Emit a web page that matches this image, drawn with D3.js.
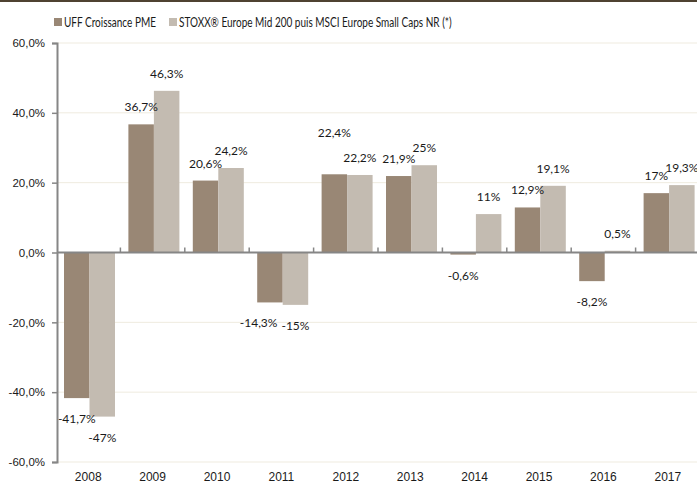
<!DOCTYPE html>
<html>
<head>
<meta charset="utf-8">
<script src="https://cdn.jsdelivr.net/npm/d3@7"></script>
<style>
  body { margin: 0; background: #fff; }
  svg { display: block; font-family: "Lato", sans-serif; }
</style>
</head>
<body>
<div id="chart"></div>
<script>
// Performances annuelles
const years = ['2008', '2009', '2010', '2011', '2012', '2013', '2014', '2015', '2016', '2017'];
const seriesNames = ['UFF Croissance PME', 'STOXX® Europe Mid 200 puis MSCI Europe Small Caps NR (*)'];
const uffValues = [-41.7, 36.7, 20.6, -14.3, 22.4, 21.9, -0.6, 12.9, -8.2, 17];
const indexValues = [-47, 46.3, 24.2, -15, 22.2, 25, 11, 19.1, 0.5, 19.3];
const yTicks = [-60, -40, -20, 0, 20, 40, 60];

const colors = ['#998775', '#C3BBB1'];
const width = 697, height = 484;

const data = years.map((y, i) => ({ year: y, values: [uffValues[i], indexValues[i]] }));

const svg = d3.select('#chart').append('svg')
    .attr('width', width)
    .attr('height', height);

// resserre un texte (la police d'origine est plus étroite)
function condense(sel, k) {
    sel.each(function() {
        const w = this.getComputedTextLength();
        d3.select(this).attr('textLength', w * k).attr('lengthAdjust', 'spacingAndGlyphs');
    });
}

// bande sombre en haut
svg.append('rect').attr('x', 0).attr('y', 0).attr('width', width).attr('height', 2).attr('fill', '#4f4231');

const x = d3.scaleBand().domain(years).range([56, 700]);
const x1 = d3.scaleBand().domain([0, 1]).range([8, 59]);
const y = d3.scaleLinear().domain([-60, 60]).range([462, 43]);

const fmtTick = d => d.toFixed(1).replace('.', ',') + '%';
const fmtVal = d => String(d).replace('.', ',') + '%';

// grille
svg.append('g').selectAll('line')
    .data(yTicks.filter(d => d !== 0))
    .join('line')
    .attr('x1', 57).attr('x2', width)
    .attr('y1', d => y(d)).attr('y2', d => y(d))
    .attr('stroke', '#EFEBDF').attr('stroke-width', 1);

// barres
const groups = svg.append('g').selectAll('g')
    .data(data)
    .join('g')
    .attr('transform', d => `translate(${x(d.year)},0)`);

groups.selectAll('rect')
    .data(d => d.values.map((v, i) => ({ v, i })))
    .join('rect')
    .attr('x', d => x1(d.i))
    .attr('width', x1.bandwidth())
    .attr('y', d => y(Math.max(0, d.v)))
    .attr('height', d => Math.abs(y(d.v) - y(0)))
    .attr('fill', d => colors[d.i]);

groups.selectAll('text')
    .data(d => d.values.map((v, i) => ({ v, i })))
    .join('text')
    .attr('x', d => x1(d.i) + x1.bandwidth() / 2)
    .attr('y', d => d.v >= 0 ? y(d.v) - 13 : y(d.v) + 25)
    .attr('text-anchor', 'middle')
    .attr('font-size', 12)
    .attr('fill', '#1a1a1a')
    .text(d => fmtVal(d.v));

// écarte les étiquettes qui se chevauchent dans un même groupe
groups.each(function() {
    const [a, b] = d3.select(this).selectAll('text').nodes();
    const va = d3.select(a).datum().v, vb = d3.select(b).datum().v;
    const xa = +a.getAttribute('x'), xb = +b.getAttribute('x');
    const ya = +a.getAttribute('y'), yb = +b.getAttribute('y');
    const hOverlap = (a.getComputedTextLength() + b.getComputedTextLength()) / 2 - (xb - xa);
    if ((va >= 0) === (vb >= 0) && Math.abs(ya - yb) < 10 && hOverlap > 4) {
        if (va >= 0) a.setAttribute('y', Math.min(ya, yb) - 24);
        else a.setAttribute('x', xa - hOverlap - 4);
    }
});

// axe Y
const yAxis = svg.append('g')
    .attr('transform', 'translate(57,0)')
    .call(d3.axisLeft(y).tickValues(yTicks).tickFormat(fmtTick).tickSize(5).tickPadding(7));
yAxis.select('.domain').attr('stroke', '#868686').attr('stroke-width', 2);
yAxis.selectAll('.tick line').attr('stroke', '#868686').attr('stroke-width', 1.5);
yAxis.selectAll('.tick text').attr('font-size', 11.5).attr('fill', '#1a1a1a').attr('font-family', null);

// ligne du zéro avec graduations entre catégories
const zero = svg.append('g');
zero.append('line')
    .attr('x1', 57).attr('x2', width)
    .attr('y1', y(0)).attr('y2', y(0))
    .attr('stroke', '#868686').attr('stroke-width', 2);
zero.selectAll('.cat-tick')
    .data(years.slice(1))
    .join('line')
    .attr('class', 'cat-tick')
    .attr('x1', d => x(d)).attr('x2', d => x(d))
    .attr('y1', y(0)).attr('y2', y(0) - 5)
    .attr('stroke', '#868686').attr('stroke-width', 1.5);

// libellés des années
const xAxis = svg.append('g')
    .attr('transform', `translate(0,${y(-60)})`)
    .call(d3.axisBottom(x).tickSize(0).tickPadding(10));
xAxis.select('.domain').remove();
xAxis.selectAll('.tick text').attr('font-size', 12).attr('fill', '#1a1a1a').attr('font-family', null);

// légende
const legendX = [54, 169];
const legend = svg.append('g').selectAll('g')
    .data(seriesNames)
    .join('g')
    .attr('transform', (d, i) => `translate(${legendX[i]},18)`);
legend.append('rect').attr('width', 8).attr('height', 8).attr('fill', (d, i) => colors[i]);
legend.append('text')
    .attr('x', 10).attr('y', 8.5)
    .attr('font-size', 12.5)
    .attr('fill', '#1a1a1a')
    .text(d => d)
    .call(condense, 0.8);
</script>
</body>
</html>
